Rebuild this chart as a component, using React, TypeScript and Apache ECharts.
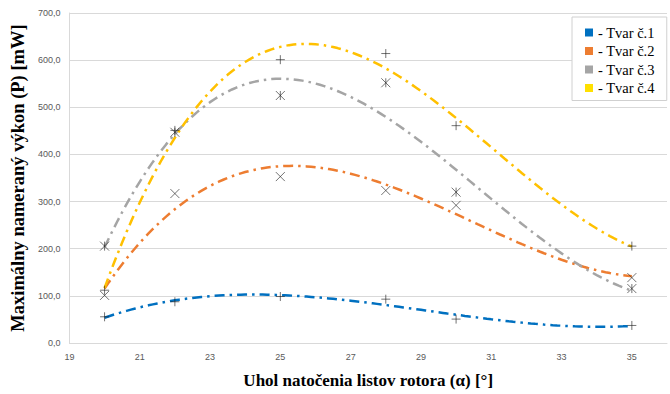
import React, { useEffect, useRef } from "react";
import * as echarts from "echarts";

const angles = [20, 22, 25, 28, 30, 35];
const tvar1 = [55.6, 87.5, 98.6, 93, 50.7, 37.2];
const tvar2 = [101, 317, 353, 323.5, 292, 138.7];
const tvar3 = [205.5, 447, 525, 552, 320, 115.5];
const tvar4 = [112, 451, 601, 614, 461, 205.5];
const seriesNames = ["- Tvar č.1", "- Tvar č.2", "- Tvar č.3", "- Tvar č.4"];
const xTitle = "Uhol natočenia listov rotora (α) [°]";
const yTitle = "Maximálny nameraný výkon (P) [mW]";

const TREND_ORDER = 3;

function polyfit(xs: number[], ys: number[], order: number, c: number) {
  const n = order + 1;
  const A: number[][] = [];
  for (let i = 0; i < n; i++) {
    A.push(new Array(n + 1).fill(0));
  }
  for (let k = 0; k < xs.length; k++) {
    const x = xs[k] - c;
    for (let i = 0; i < n; i++) {
      for (let j = 0; j < n; j++) A[i][j] += Math.pow(x, i + j);
      A[i][n] += ys[k] * Math.pow(x, i);
    }
  }
  for (let i = 0; i < n; i++) {
    let p = i;
    for (let r = i + 1; r < n; r++) if (Math.abs(A[r][i]) > Math.abs(A[p][i])) p = r;
    [A[i], A[p]] = [A[p], A[i]];
    for (let r = 0; r < n; r++) {
      if (r === i) continue;
      const f = A[r][i] / A[i][i];
      for (let j = i; j <= n; j++) A[r][j] -= f * A[i][j];
    }
  }
  return A.map((row, i) => row[n] / A[i][i]);
}

function trend(xs: number[], ys: number[]) {
  const c = (xs[0] + xs[xs.length - 1]) / 2;
  const coef = polyfit(xs, ys, TREND_ORDER, c);
  const out: number[][] = [];
  const x0 = xs[0];
  const x1 = xs[xs.length - 1];
  const steps = 120;
  for (let s = 0; s <= steps; s++) {
    const x = x0 + ((x1 - x0) * s) / steps;
    let y = 0;
    coef.forEach((a, i) => (y += a * Math.pow(x - c, i)));
    out.push([x, y]);
  }
  return out;
}

const lineColors = ["#0070C0", "#ED7D31", "#A5A5A5", "#FFC000"];
const legendColors = ["#0070C0", "#ED7D31", "#A5A5A5", "#FFE000"];
const PLUS = "path://M0,5L10,5M5,0L5,10";
const CROSS = "path://M0,0L10,10M10,0L0,10";
const STAR = "path://M0,0L10,10M10,0L0,10M5,0L5,10";
const markers = [PLUS, CROSS, STAR, PLUS];

const SERIF = "'Liberation Serif', 'Times New Roman', serif";
const SANS = "'Liberation Sans', Arial, sans-serif";

export default function App() {
  const ref = useRef<HTMLDivElement>(null);
  useEffect(() => {
    if (!ref.current) return;
    const chart = echarts.init(ref.current, undefined, { renderer: "svg" });
    const all = [tvar1, tvar2, tvar3, tvar4];
    const series: any[] = [];
    all.forEach((vals, i) => {
      series.push({
        name: seriesNames[i],
        type: "line",
        data: trend(angles, vals),
        showSymbol: false,
        symbol: "none",
        smooth: false,
        itemStyle: { color: legendColors[i] },
        lineStyle: { color: lineColors[i], width: 2.5, type: [10, 5, 2.5, 5] },
        z: 2,
      });
    });
    all.forEach((vals, i) => {
      series.push({
        type: "scatter",
        data: angles.map((a, k) => [a, vals[k]]),
        symbol: markers[i],
        symbolSize: 9,
        itemStyle: { color: "#222", borderColor: "#222", borderWidth: 0.8 },
        z: 5,
      });
    });
    chart.setOption({
      animation: false,
      textStyle: { fontFamily: SERIF },
      grid: { left: 61, top: 13, right: 0, bottom: 38.5, containLabel: false },
      legend: {
        data: seriesNames,
        orient: "vertical",
        left: 572,
        top: 17,
        icon: "rect",
        itemWidth: 8,
        itemHeight: 8,
        itemGap: 3.5,
        padding: [8, 12, 5, 13],
        backgroundColor: "#fff",
        borderColor: "#d0d0d0",
        borderWidth: 1,
        textStyle: { fontFamily: SERIF, fontSize: 14.5, color: "#000" },
      },
      xAxis: {
        type: "value",
        min: 19,
        max: 36,
        interval: 2,
        name: xTitle,
        nameLocation: "middle",
        nameGap: 29,
        nameTextStyle: { fontFamily: SERIF, fontWeight: "bold", fontSize: 17, color: "#000" },
        axisLine: { show: true, lineStyle: { color: "#d9d9d9" } },
        axisTick: { show: false },
        splitLine: { show: false },
        axisLabel: {
          fontFamily: SANS,
          fontSize: 9,
          color: "#595959",
          margin: 9,
          formatter: (v: number) => (v > 35 ? "" : String(v)),
        },
      },
      yAxis: {
        type: "value",
        min: 0,
        max: 700,
        interval: 100,
        name: yTitle,
        nameLocation: "middle",
        nameGap: 37,
        nameTextStyle: { fontFamily: SERIF, fontWeight: "bold", fontSize: 18.5, color: "#000" },
        axisLine: { show: true, lineStyle: { color: "#d9d9d9" } },
        axisTick: { show: false },
        splitLine: { show: true, lineStyle: { color: "#d9d9d9" } },
        axisLabel: {
          fontFamily: SANS,
          fontSize: 9,
          color: "#595959",
          margin: 9,
          formatter: (v: number) => v.toFixed(1).replace(".", ","),
        },
      },
      series,
    });
    return () => chart.dispose();
  }, []);
  return <div ref={ref} style={{ width: 670, height: 394, position: "absolute", left: 0, top: 0 }} />;
}
